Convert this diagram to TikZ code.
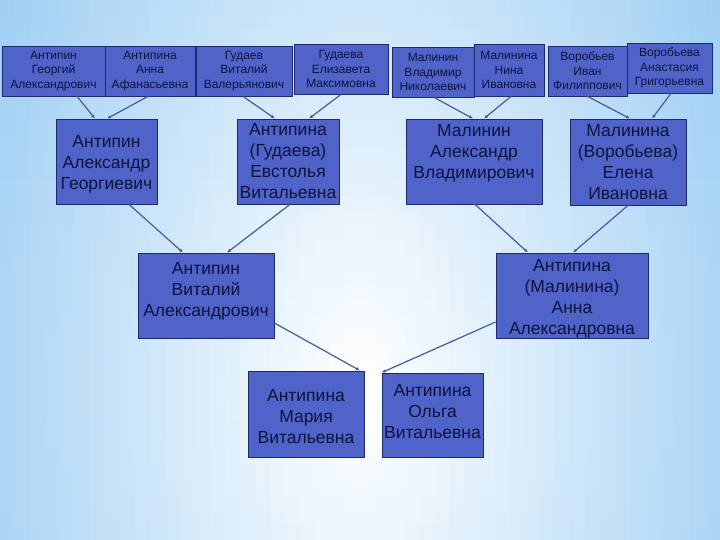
\documentclass[tikz,border=0pt]{standalone}
\usepackage{fontspec}
\newfontfamily\libsans{Liberation Sans}
\usetikzlibrary{arrows.meta}

\definecolor{boxfill}{RGB}{80,99,201}
\definecolor{boxline}{RGB}{30,42,110}
\definecolor{linkcol}{RGB}{72,88,168}
\definecolor{bgedge}{RGB}{150,202,242}
\definecolor{txt}{RGB}{12,20,60}

\begin{document}
\begin{tikzpicture}[x=1pt, y=1pt,
    box/.style={draw=boxline, fill=boxfill, line width=0.8pt, inner sep=0pt, minimum height=85pt},
    smallname/.style={text=txt, align=center, inner sep=1pt, font=\libsans\fontsize{12}{14.5}\selectfont},
    bigname/.style={text=txt, align=center, inner sep=1pt, font=\libsans\fontsize{17.5}{21}\selectfont},
    link/.style={linkcol, line width=1.2pt, -{Latex[length=4pt,width=3.5pt]}}]

% background, light in the middle and bluer to the edges
\useasboundingbox (0,0) rectangle (720,540);
\foreach \i in {0,...,47} {
  \foreach \j in {0,...,35} {
    \pgfmathsetmacro{\dx}{(\i*15+7.5-360)/360}
    \pgfmathsetmacro{\dy}{(\j*15+7.5-150)/390}
    \pgfmathtruncatemacro{\p}{min(100, 78*sqrt(\dx*\dx + 0.4*\dy*\dy))}
    \fill[bgedge!\p!white] (\i*15,\j*15) rectangle ++(15.6,15.6);
  }
}

% great-grandparents
\node[box, minimum width=103pt, minimum height=50pt] (GG1) at (53.5,469) {};
\node[box, minimum width=90pt, minimum height=50pt] (GG2) at (150,469) {};
\node[box, minimum width=96pt, minimum height=50pt] (GG3) at (244,469) {};
\node[box, minimum width=94pt, minimum height=50pt] (GG4) at (341,471) {};
\node[box, minimum width=82pt, minimum height=50pt] (GG5) at (433,468) {};
\node[box, minimum width=70pt, minimum height=52pt] (GG6) at (509,470) {};
\node[box, minimum width=79pt, minimum height=50pt] (GG7) at (587.5,469) {};
\node[box, minimum width=85pt, minimum height=50pt] (GG8) at (669.5,472) {};
\node[smallname] (GG1t) at (GG1) {Антипин\\Георгий\\Александрович};
\node[smallname] (GG2t) at (GG2) {Антипина\\Анна\\Афанасьевна};
\node[smallname] (GG3t) at (GG3) {Гудаев\\Виталий\\Валерьянович};
\node[smallname] (GG4t) at (GG4) {Гудаева\\Елизавета\\Максимовна};
\node[smallname] (GG5t) at (GG5) {Малинин\\Владимир\\Николаевич};
\node[smallname] (GG6t) at (GG6) {Малинина\\Нина\\Ивановна};
\node[smallname] (GG7t) at (GG7) {Воробьев\\Иван\\Филиппович};
\node[smallname] (GG8t) at (GG8) {Воробьева\\Анастасия\\Григорьевна};

% grandparents
\node[box, minimum width=101pt] (G1) at (106.5,378.5) {};
\node[box, minimum width=102pt] (G2) at (288,378.5) {};
\node[box, minimum width=136pt] (G3) at (474,378.5) {};
\node[box, minimum width=116pt, minimum height=86pt] (G4) at (628,378) {};
\node[bigname] (G1t) at ([yshift=-3pt]G1.center) {Антипин\\Александр\\Георгиевич};
\node[bigname] (G2t) at (G2) {Антипина\\(Гудаева)\\Евстолья\\Витальевна};
\node[bigname] (G3t) at ([yshift=8pt]G3.center) {Малинин\\Александр\\Владимирович};
\node[bigname] (G4t) at (G4) {Малинина\\(Воробьева)\\Елена\\Ивановна};

% parents
\node[box, minimum width=136pt] (F) at (206,244.5) {};
\node[box, minimum width=152pt] (M) at (572,244.5) {};
\node[bigname] (Ft) at ([yshift=4pt]F.center) {Антипин\\Виталий\\Александрович};
\node[bigname] (Mt) at ([yshift=-3pt]M.center) {Антипина\\(Малинина)\\Анна\\Александровна};

% daughters
\node[box, minimum width=116pt, minimum height=86pt] (D1) at (306,126) {};
\node[box, minimum width=101pt, minimum height=84pt] (D2) at (432.5,125) {};
\node[bigname] (D1t) at ([yshift=-3pt]D1.center) {Антипина\\Мария\\Витальевна};
\node[bigname] (D2t) at ([yshift=3pt]D2.center) {Антипина\\Ольга\\Витальевна};

\draw[link] ([xshift=23.5pt]GG1.south) -- ([xshift=-11.5pt]G1.north);
\draw[link] ([xshift=-2pt]GG2.south) -- ([xshift=0.5pt]G1.north);
\draw[link] ([xshift=-1pt]GG3.south) -- ([xshift=-13pt]G2.north);
\draw[link] (GG4.south) -- ([xshift=21pt]G2.north);
\draw[link] ([xshift=1pt]GG5.south) -- ([xshift=-1pt]G3.north);
\draw[link] ([xshift=2pt]GG6.south) -- ([xshift=10pt]G3.north);
\draw[link] (GG7.south) -- ([xshift=2pt]G4.north);
\draw[link] ([xshift=1.5pt]GG8.south) -- ([xshift=24pt]G4.north);

\draw[link] ([xshift=22.5pt]G1.south) -- ([xshift=-23pt]F.north);
\draw[link] ([xshift=2pt]G2.south) -- ([xshift=21pt]F.north);
\draw[link] ([xshift=1pt]G3.south) -- ([xshift=-44pt]M.north);
\draw[link] (G4.south) -- ([xshift=1pt]M.north);

\draw[link] ([yshift=-27.5pt]F.east) -- ([xshift=54pt]D1.north);
\draw[link] ([yshift=-26.5pt]M.west) -- (D2.north west);
\end{tikzpicture}
\end{document}
